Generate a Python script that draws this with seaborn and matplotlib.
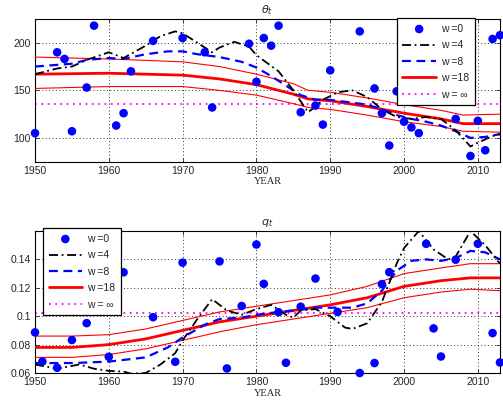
import numpy as np
import pandas as pd
import matplotlib
matplotlib.use("Agg")
import matplotlib.pyplot as plt
import seaborn as sns

sns.set_style("white")
plt.rcParams['font.family'] = ['Liberation Sans', 'DejaVu Sans']

# ---------------- theta_t (top panel) ----------------
th_pts_year = [1950, 1953, 1954, 1955, 1957, 1958, 1961, 1962, 1963, 1966, 1970, 1973, 1974,
               1979, 1980, 1981, 1982, 1983, 1986, 1988, 1989, 1990, 1994, 1996, 1997, 1998,
               1999, 2000, 2001, 2002, 2007, 2009, 2010, 2011, 2012, 2013]
th_pts_val = [105, 190, 183, 107, 153, 218, 113, 126, 170, 202, 205, 190, 132,
              199, 159, 205, 197, 218, 127, 134, 114, 171, 212, 152, 126, 92,
              149, 117, 111, 105, 120, 81, 118, 87, 204, 208]

th_w4_year = [1950, 1953, 1955, 1957, 1960, 1962, 1965, 1967, 1969, 1970, 1972, 1974, 1975,
              1977, 1979, 1980, 1983, 1985, 1987, 1988, 1989, 1991, 1993, 1995, 1997, 1999,
              2001, 2003, 2005, 2007, 2009, 2010, 2012, 2013]
th_w4_val = [167, 173, 175, 182, 190, 184, 197, 207, 212, 210, 200, 190, 195,
             201, 196, 187, 170, 150, 127, 133, 140, 148, 150, 143, 130, 122,
             120, 122, 120, 108, 91, 95, 102, 104]

th_w8_year = [1950, 1955, 1957, 1960, 1962, 1965, 1968, 1970, 1972, 1975, 1978, 1980, 1982,
              1984, 1986, 1988, 1990, 1993, 1995, 1997, 1999, 2001, 2003, 2005, 2007, 2009,
              2011, 2013]
th_w8_val = [175, 178, 182, 184, 183, 188, 191, 191, 188, 185, 180, 174, 165,
             155, 145, 140, 140, 137, 135, 130, 124, 120, 117, 113, 107, 100,
             101, 104]

th_w18_year = [1950, 1960, 1970, 1975, 1980, 1985, 1987, 1990, 1995, 2000, 2005, 2008, 2013]
th_w18_mid = [167, 168, 166, 162, 156, 146, 141, 139, 133, 126, 120, 115, 115]
th_w18_hi = [185, 183, 180, 175, 167, 157, 150, 148, 142, 135, 129, 124, 125]
th_w18_lo = [152, 154, 154, 150, 145, 136, 132, 130, 124, 117, 112, 107, 106]

th_winf = 136

# ---------------- q_t (bottom panel) ----------------
q_pts_year = [1950, 1951, 1953, 1955, 1956, 1957, 1960, 1962, 1966, 1969, 1970, 1975, 1976,
              1978, 1980, 1981, 1983, 1984, 1986, 1988, 1991, 1994, 1996, 1997, 1998, 2003,
              2004, 2005, 2007, 2010, 2012, 2013]
q_pts_val = [0.0886, 0.0681, 0.0637, 0.0832, 0.1037, 0.0951, 0.0714, 0.1309, 0.0993, 0.0679,
             0.1377, 0.1386, 0.0632, 0.1072, 0.1505, 0.1228, 0.1028, 0.0672, 0.1067, 0.1265,
             0.1030, 0.0600, 0.0670, 0.1226, 0.1310, 0.1510, 0.0914, 0.0716, 0.1398, 0.1510,
             0.0881, 0.0674]

q_w4_year = [1950, 1953, 1955, 1956, 1958, 1960, 1962, 1963, 1965, 1967, 1969, 1970, 1972,
             1974, 1976, 1978, 1980, 1982, 1984, 1985, 1986, 1988, 1990, 1992, 1993, 1995,
             1997, 1999, 2000, 2002, 2004, 2006, 2007, 2009, 2011, 2013]
q_w4_val = [0.066, 0.063, 0.065, 0.066, 0.063, 0.0615, 0.061, 0.0595, 0.060, 0.066, 0.074,
            0.083, 0.098, 0.112, 0.104, 0.101, 0.105, 0.108, 0.101, 0.099, 0.104, 0.105,
            0.100, 0.092, 0.091, 0.095, 0.110, 0.137, 0.148, 0.160, 0.147, 0.140, 0.142,
            0.160, 0.150, 0.137]

q_w8_year = [1950, 1955, 1960, 1965, 1968, 1970, 1973, 1975, 1978, 1980, 1983, 1985, 1988,
             1990, 1993, 1995, 1997, 1999, 2001, 2003, 2005, 2007, 2009, 2011, 2013]
q_w8_val = [0.067, 0.067, 0.068, 0.071, 0.078, 0.085, 0.094, 0.098, 0.099, 0.101, 0.103,
            0.104, 0.106, 0.106, 0.106, 0.109, 0.118, 0.132, 0.139, 0.140, 0.139, 0.141,
            0.146, 0.145, 0.140]

q_w18_year = [1950, 1955, 1960, 1965, 1970, 1975, 1980, 1985, 1990, 1995, 2000, 2005, 2009, 2013]
q_w18_mid = [0.078, 0.078, 0.080, 0.084, 0.090, 0.096, 0.100, 0.104, 0.108, 0.113, 0.121,
             0.125, 0.127, 0.127]
q_w18_hi = [0.086, 0.086, 0.087, 0.091, 0.097, 0.103, 0.107, 0.111, 0.115, 0.121, 0.130,
            0.134, 0.137, 0.137]
q_w18_lo = [0.071, 0.071, 0.073, 0.077, 0.083, 0.089, 0.094, 0.098, 0.102, 0.106, 0.113,
            0.117, 0.119, 0.118]

q_winf = 0.102

labels = ["w =0", "w =4", "w =8", "w =18", "w = \u221e"]
x_ticks = [1950, 1960, 1970, 1980, 1990, 2000, 2010]


def panel(ax, title, pyear, pval, y4, v4, y8, v8, y18, m18, h18, l18, winf,
          ylim, yticks, yticklabels, legend_loc, legend_anchor):
    sns.lineplot(x=[1950, 2013], y=[winf, winf], ax=ax, color=(1, 0, 1),
                 linestyle=(0, (1, 2.5)), linewidth=1.3, label=labels[4], zorder=2)
    sns.lineplot(x=y18, y=h18, ax=ax, color='red', linewidth=0.8, zorder=3)
    sns.lineplot(x=y18, y=l18, ax=ax, color='red', linewidth=0.8, zorder=3)
    sns.lineplot(x=y18, y=m18, ax=ax, color='red', linewidth=2.0, label=labels[3], zorder=4)
    sns.lineplot(x=y8, y=v8, ax=ax, color='blue', linewidth=1.6,
                 linestyle=(0, (4, 2.5)), label=labels[2], zorder=5)
    sns.lineplot(x=y4, y=v4, ax=ax, color='black', linewidth=1.3,
                 linestyle=(0, (5, 2, 1, 2)), label=labels[1], zorder=6)
    sns.scatterplot(x=pyear, y=pval, ax=ax, color='blue', s=38, edgecolor='none',
                    label=labels[0], zorder=7, clip_on=False)
    ax.set_xlim(1950, 2013)
    ax.set_ylim(*ylim)
    ax.set_xticks(x_ticks)
    ax.set_xticklabels([str(t) for t in x_ticks])
    ax.set_yticks(yticks)
    ax.set_yticklabels(yticklabels)
    ax.grid(True, color='#333333', linestyle=(0, (1, 2.5)), linewidth=0.7)
    ax.tick_params(direction='in', length=3, labelsize=7.5, top=True, right=True,
                   bottom=True, left=True, pad=3, width=0.6)
    for s in ax.spines.values():
        s.set_color('black')
        s.set_linewidth(0.8)
    ax.set_title(title, fontsize=8, family='DejaVu Serif', pad=4)
    ax.set_xlabel("YEAR", fontsize=7.5, family='Liberation Serif', labelpad=1)
    ax.set_ylabel("")
    h, lab = ax.get_legend_handles_labels()
    order = [lab.index(l) for l in labels]
    leg = ax.legend([h[i] for i in order], [lab[i] for i in order], loc=legend_loc,
                    bbox_to_anchor=legend_anchor, fontsize=7.5, frameon=True,
                    fancybox=False, edgecolor='black', framealpha=1, borderaxespad=0,
                    handlelength=3.2, borderpad=0.55, labelspacing=0.62, handletextpad=0.5)
    leg.get_frame().set_linewidth(0.9)
    leg.set_zorder(10)


fig = plt.figure(figsize=(5.03, 4.08), dpi=100)
ax1 = fig.add_axes([0.0696, 0.6037, 0.9244, 0.3497])
ax2 = fig.add_axes([0.0696, 0.0858, 0.9244, 0.3480])

panel(ax1, r"$\theta_t$", th_pts_year, th_pts_val, th_w4_year, th_w4_val,
      th_w8_year, th_w8_val, th_w18_year, th_w18_mid, th_w18_hi, th_w18_lo, th_winf,
      (75, 225), [100, 150, 200], ["100", "150", "200"], 'upper right', (0.946, 1.007))
panel(ax2, r"$q_t$", q_pts_year, q_pts_val, q_w4_year, q_w4_val,
      q_w8_year, q_w8_val, q_w18_year, q_w18_mid, q_w18_hi, q_w18_lo, q_winf,
      (0.06, 0.16), [0.06, 0.08, 0.1, 0.12, 0.14], ["0.06", "0.08", "0.1", "0.12", "0.14"],
      'upper left', (0.017, 1.021))

fig.savefig("out.png", dpi=100)
